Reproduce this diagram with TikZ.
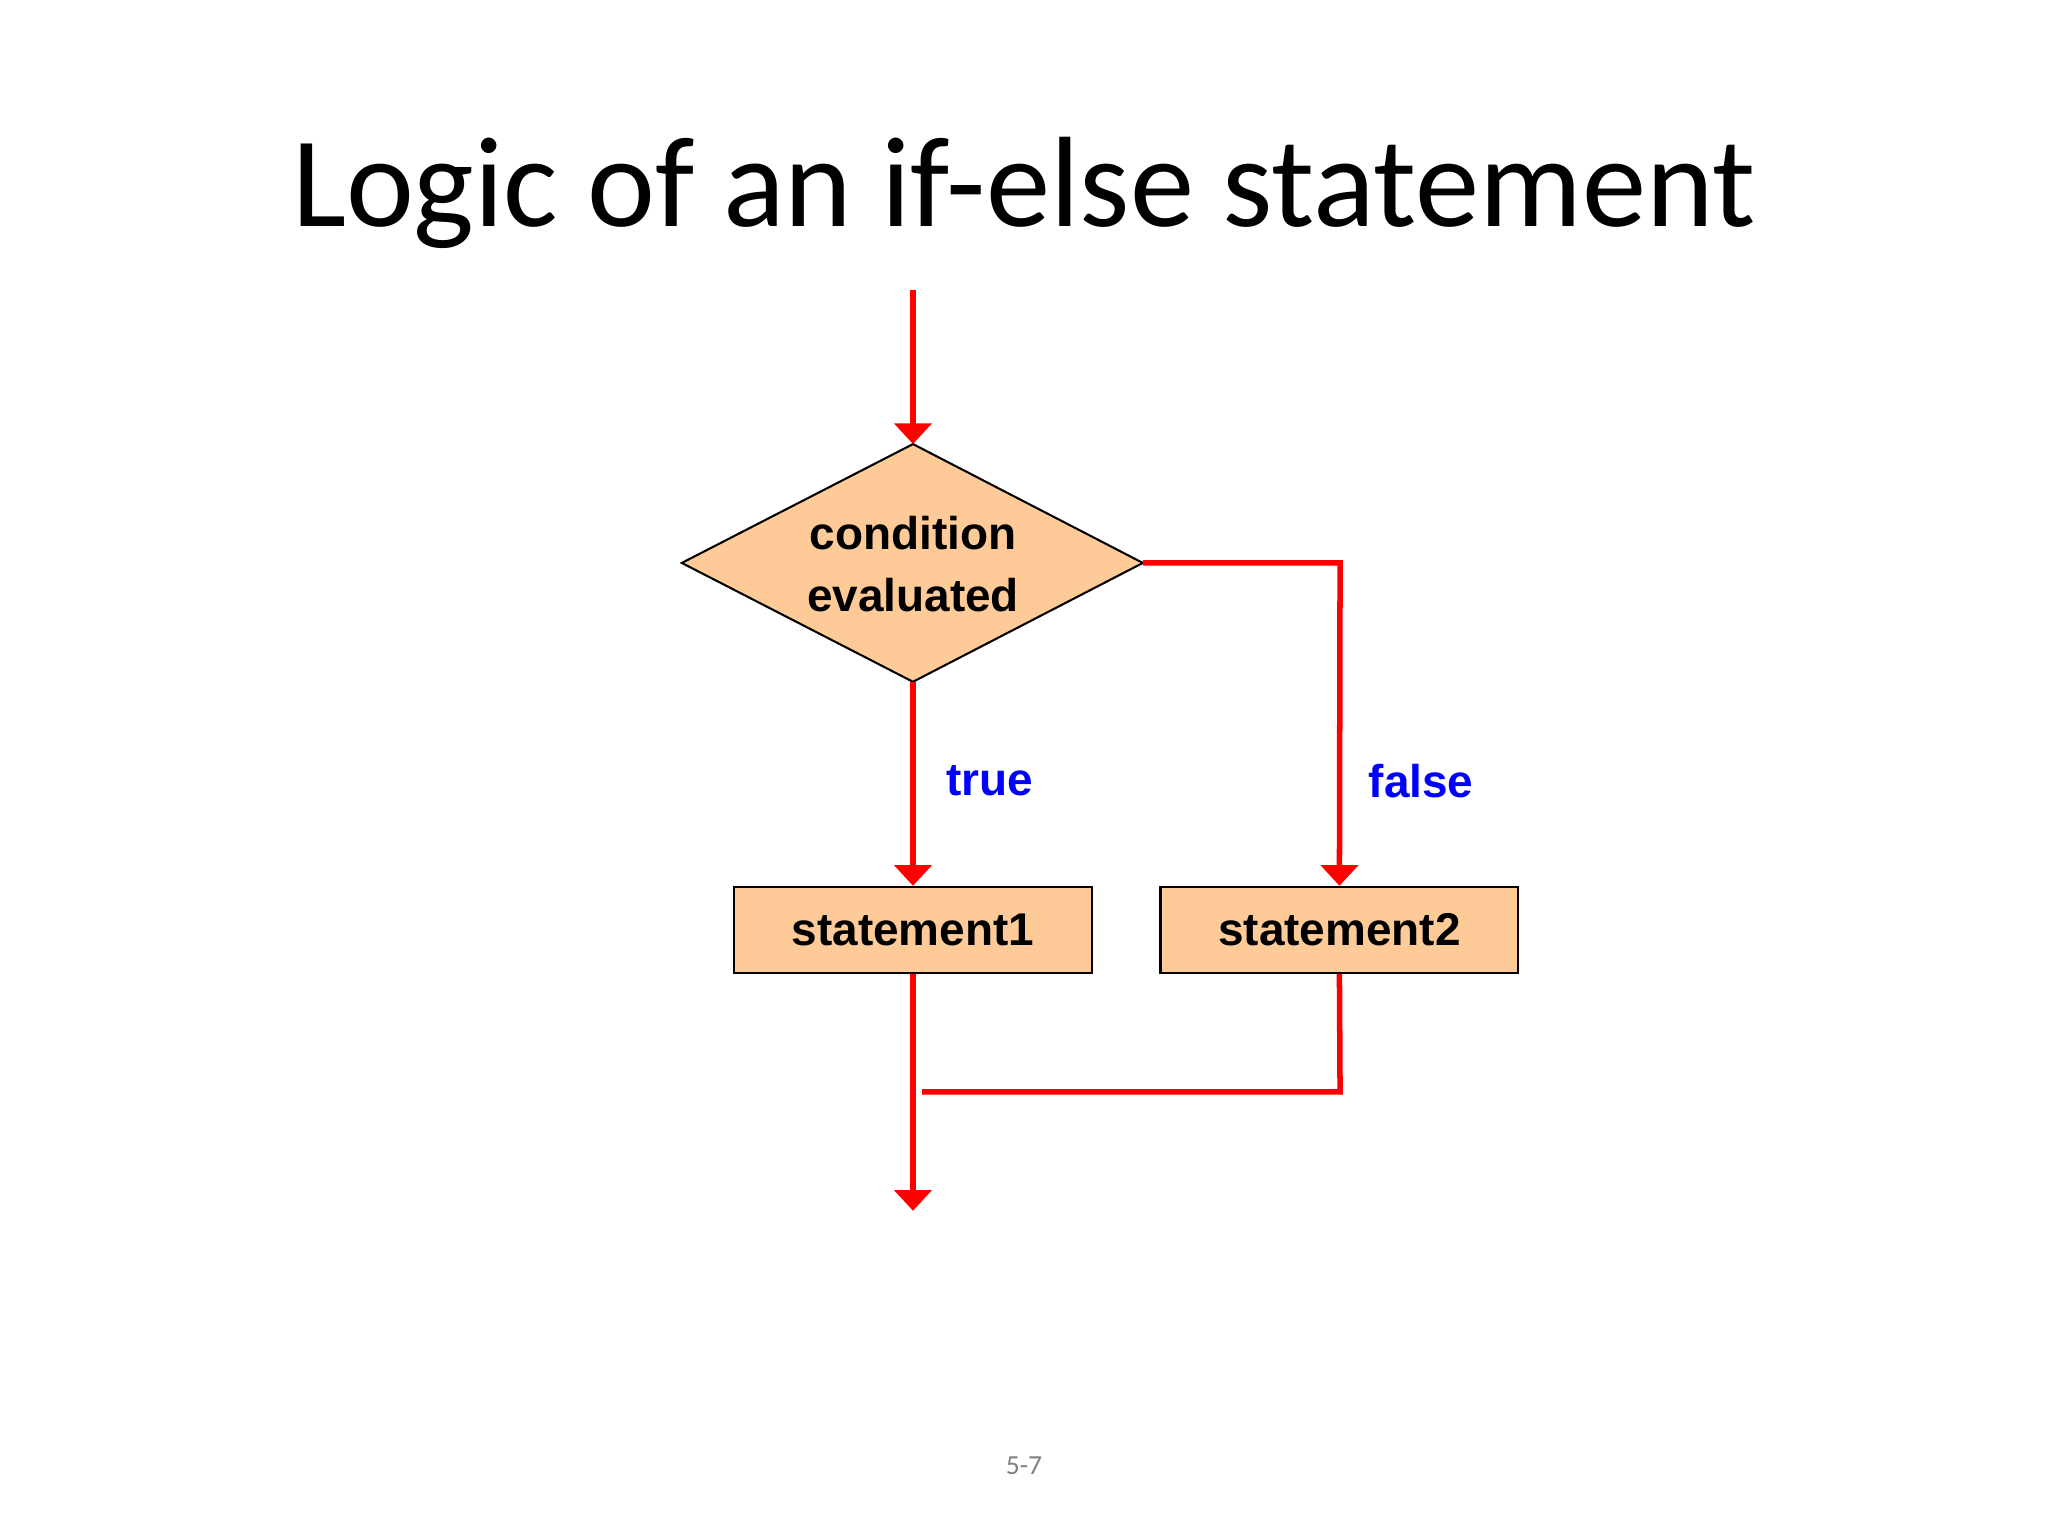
\documentclass[tikz,border=0pt]{standalone}
\usepackage{fontspec}
\setmainfont{Carlito}
\newfontfamily\boxfont{Liberation Sans}
\usetikzlibrary{shapes.geometric,arrows.meta}
\begin{document}
\begin{tikzpicture}[x=0.01cm,y=-0.01cm,
  flow/.style={draw=red,line width=1.2pt,-{Triangle[width=8pt,length=4.5pt]}},
  flowplain/.style={draw=red,line width=1.2pt},
  stmt/.style={draw=black,line width=0.45pt,fill=orange!40!white,fill={rgb,255:red,253;green,202;blue,152},minimum width=274*0.01cm,minimum height=66*0.01cm,font=\boxfont\bfseries\fontsize{10}{12}\selectfont},
  lbl/.style={text=blue,font=\boxfont\bfseries\fontsize{10}{12}\selectfont}]
\useasboundingbox (0,0) rectangle (1568,1176);
\node (title) at (784,148) {\fontsize{28}{32}\selectfont Logic of an if-else statement};
\coordinate (start) at (699,222);
\coordinate (dt) at (699,340);
\coordinate (dl) at (522,431);
\coordinate (dr) at (875,431);
\coordinate (db) at (699,522);
\draw[line width=0.45pt,fill={rgb,255:red,253;green,202;blue,152}] (dt) -- (dr) -- (db) -- (dl) -- cycle;
\node[align=center,font=\boxfont\bfseries\fontsize{10}{13.5}\selectfont] (cond) at (699,432) {condition\\evaluated};
\node[stmt] (s1) at (699,712) {statement1};
\node[stmt] (s2) at (1025.5,712) {statement2};
\coordinate (rc) at (1026,431);
\coordinate (join) at (1026,836);
\coordinate (joinend) at (706,836);
\coordinate (end) at (699,927);
\draw[flow] (start) -- (dt);
\draw[flow] (db) -- (s1.north);
\draw[flow] (dr) -- (rc) -- (s2.north);
\draw[flow] (s1.south) -- (end);
\draw[flowplain] (s2.south) -- (join) -- (joinend);
\node[lbl] (t) at (758,598) {true};
\node[lbl] (f) at (1088,598) {false};
\node[text=gray,font=\fontsize{6}{7}\selectfont] (pg) at (784,1122) {5-7};
\end{tikzpicture}
\end{document}
